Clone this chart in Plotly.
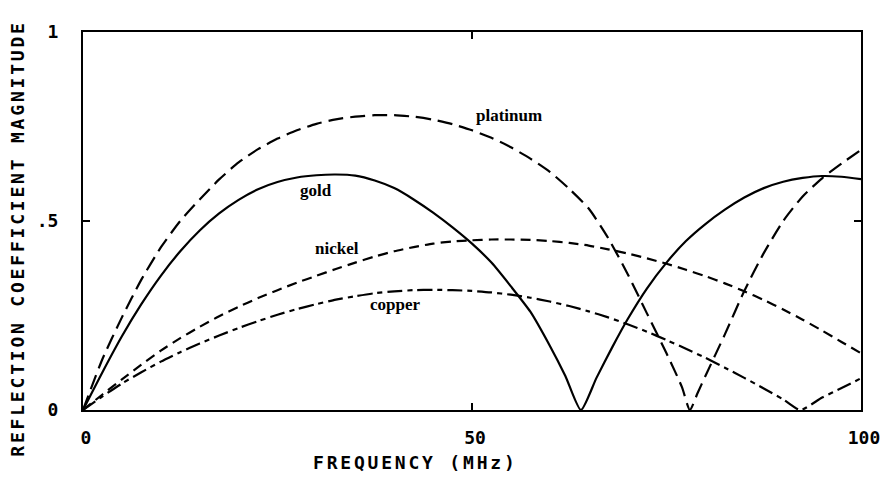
import plotly.graph_objects as go

# ---- data ----
pt_f = [0, 2.5, 5, 7.5, 10, 12.5, 15, 17.5, 20, 22.5, 25, 27.5, 30, 32.5, 35, 37.5, 40, 42.5, 45,
        47.5, 50, 52.5, 55, 57.5, 60, 62.5, 65, 67.5, 70, 72.5, 75, 77, 78, 79, 80, 82.5, 85,
        87.5, 90, 92.5, 95, 97.5, 100]
pt_v = [0, 0.135, 0.245, 0.345, 0.43, 0.50, 0.557, 0.61, 0.655, 0.69, 0.718, 0.74, 0.757, 0.769,
        0.776, 0.78, 0.78, 0.776, 0.768, 0.756, 0.74, 0.72, 0.695, 0.665, 0.63, 0.585, 0.533,
        0.455, 0.36, 0.255, 0.15, 0.06, 0.0, 0.045, 0.09, 0.2, 0.315, 0.415, 0.5, 0.565, 0.613,
        0.652, 0.688]

au_f = [0, 2.5, 5, 7.5, 10, 12.5, 15, 17.5, 20, 22.5, 25, 27.5, 30, 32.5, 35, 37.5, 40, 42.5, 45,
        47.5, 50, 52.5, 55, 57.5, 60, 62, 64, 66, 68, 70, 72.5, 75, 77.5, 80, 82.5, 85, 87.5, 90,
        92.5, 95, 97.5, 100]
au_v = [0, 0.10, 0.195, 0.28, 0.355, 0.42, 0.475, 0.52, 0.556, 0.584, 0.603, 0.615, 0.621,
        0.623, 0.62, 0.607, 0.587, 0.557, 0.522, 0.483, 0.44, 0.39, 0.327, 0.26, 0.17, 0.09,
        0.0, 0.085, 0.165, 0.24, 0.322, 0.39, 0.447, 0.492, 0.53, 0.562, 0.587, 0.604, 0.614,
        0.619, 0.617, 0.611]

ni_f = [0, 2.5, 5, 7.5, 10, 12.5, 15, 17.5, 20, 22.5, 25, 27.5, 30, 32.5, 35, 37.5, 40, 42.5, 45,
        47.5, 50, 52.5, 55, 57.5, 60, 62.5, 65, 67.5, 70, 72.5, 75, 77.5, 80, 82.5, 85, 87.5, 90,
        92.5, 95, 97.5, 100]
ni_v = [0, 0.041, 0.081, 0.12, 0.157, 0.19, 0.22, 0.248, 0.273, 0.296, 0.317, 0.337, 0.355,
        0.373, 0.39, 0.406, 0.42, 0.431, 0.44, 0.446, 0.449, 0.451, 0.451, 0.45, 0.447, 0.442,
        0.435, 0.425, 0.414, 0.401, 0.387, 0.371, 0.354, 0.335, 0.314, 0.291, 0.266, 0.239,
        0.21, 0.18, 0.15]

cu_f = [0, 2.5, 5, 7.5, 10, 12.5, 15, 17.5, 20, 22.5, 25, 27.5, 30, 32.5, 35, 37.5, 40, 42.5, 45,
        47.5, 50, 52.5, 55, 57.5, 60, 62.5, 65, 67.5, 70, 72.5, 75, 77.5, 80, 82.5, 85, 87.5, 90,
        92.2, 95, 97.5, 100]
cu_v = [0, 0.036, 0.07, 0.1, 0.128, 0.153, 0.176, 0.197, 0.217, 0.235, 0.252, 0.267, 0.28, 0.292,
        0.301, 0.309, 0.314, 0.317, 0.318, 0.317, 0.315, 0.311, 0.305, 0.297, 0.287, 0.275, 0.261,
        0.245, 0.227, 0.207, 0.185, 0.162, 0.138, 0.112, 0.085, 0.057, 0.028, 0.0, 0.033, 0.058,
        0.084]

x_ticks = [0, 50, 100]
x_tick_text = ["0", "50", "100"]
y_ticks = [0, 0.5, 1]
y_tick_text = ["0", ".5", "1"]

curve_labels = ["platinum", "gold", "nickel", "copper"]
label_x = [54.8, 30.0, 32.6, 40.2]
label_y = [0.78, 0.58, 0.428, 0.278]

fig = go.Figure()
series = [
    (pt_f, pt_v, "15px,7px"),
    (au_f, au_v, "solid"),
    (ni_f, ni_v, "10px,6px"),
    (cu_f, cu_v, "15px,5px,5px,5px"),
]
for (f, v, dash), name in zip(series, curve_labels):
    fig.add_trace(go.Scatter(x=f, y=v, mode="lines", name=name,
                             line=dict(color="black", width=2.2, dash=dash, shape="spline",
                                       smoothing=0.6)))

for t, xx, yy in zip(curve_labels, label_x, label_y):
    fig.add_annotation(x=xx, y=yy, text=t, showarrow=False,
                       font=dict(family="Liberation Serif", size=17, color="black", weight="bold"))

mono = dict(family="DejaVu Sans Mono", size=18, color="black", weight="bold")
fig.add_annotation(xref="paper", yref="paper", x=-0.085, y=0.455,
                   text="REFLECTION COEFFICIENT MAGNITUDE", textangle=-90, showarrow=False,
                   xanchor="center", yanchor="middle",
                   font=dict(family="DejaVu Sans Mono", size=18, color="black", weight="bold"))
fig.add_annotation(xref="paper", yref="paper", x=0.427, y=-0.14,
                   text="FREQUENCY (MHz)", showarrow=False, xanchor="center", yanchor="middle",
                   font=dict(family="DejaVu Sans Mono", size=18, color="black", weight="bold"))

axis_common = dict(showgrid=False, zeroline=False, showline=True, linecolor="black", linewidth=2,
                   mirror="ticks", ticks="inside", ticklen=7, tickwidth=2, tickcolor="black",
                   tickfont=mono)
fig.update_xaxes(range=[0, 100], tickvals=x_ticks, ticktext=x_tick_text,
                 ticklabelstandoff=10, ticklabelshift=3, **axis_common)
fig.update_yaxes(range=[0, 1], tickvals=y_ticks, ticktext=y_tick_text,
                 ticklabelstandoff=19, **axis_common)

fig.update_layout(width=893, height=483, margin=dict(l=75, r=40, t=24, b=81),
                  paper_bgcolor="white", plot_bgcolor="white", showlegend=False)

# widen the letter spacing of the plotter-style axis titles
post = """
document.querySelectorAll('.annotation-text').forEach(function(el){
  var t = el.textContent;
  if (t.indexOf('REFLECTION') === 0 || t.indexOf('FREQUENCY') === 0) {
    el.style.letterSpacing = '2.8px';
  }
});
"""
fig.write_html("out.html", post_script=post)
